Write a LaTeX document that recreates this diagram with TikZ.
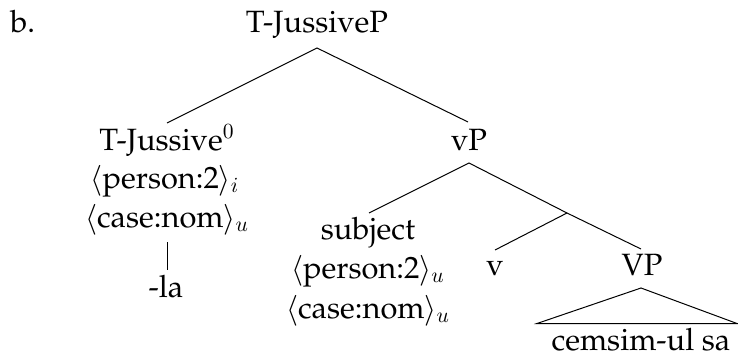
\documentclass[tikz,border=0pt]{standalone}
\usepackage{fix-cm}
\usepackage[T1]{fontenc}
\usepackage{palatino}
\begin{document}
\begin{tikzpicture}[x=0.5pt,y=-0.5pt,
  lbl/.style={anchor=base,inner sep=0pt,font=\fontfamily{ppl}\fontsize{15.4}{18}\selectfont},
  branch/.style={line width=0.5pt}]
\useasboundingbox (0,0) rectangle (738,358);
% labels
\node[lbl,anchor=base west] (ex) at (10,33) {b.};
\node[lbl] (root) at (317,33) {T-JussiveP};
\node[lbl] (tj) at (167,150) {T-Jussive$^0$};
\node[lbl] (tjp) at (165,188) {$\langle$person:2$\rangle_i$};
\node[lbl] (tjc) at (167,227) {$\langle$case:nom$\rangle_u$};
\node[lbl] (la) at (166,297) {-la};
\node[lbl] (vp) at (469,150) {vP};
\node[lbl] (subj) at (368,239) {subject};
\node[lbl] (subjp) at (368,278) {$\langle$person:2$\rangle_u$};
\node[lbl] (subjc) at (368,318) {$\langle$case:nom$\rangle_u$};
\node[lbl] (v) at (495,275) {v};
\node[lbl] (VP) at (642,275) {VP};
\node[lbl] (cem) at (641,350) {cemsim-ul sa};
% branch points
\coordinate (root-b) at (317,48);
\coordinate (tj-t) at (167,123);
\coordinate (vp-t) at (468,122);
\coordinate (vp-b) at (469,163);
\coordinate (subj-t) at (369,213);
\coordinate (vbar) at (567,213);
\coordinate (v-t) at (495,250);
\coordinate (VP-t) at (641,249);
\coordinate (tjc-b) at (167.5,242);
\coordinate (la-t) at (167.5,270);
\coordinate (VP-b) at (641,288);
\coordinate (tri-l) at (537,323.5);
\coordinate (tri-r) at (737,323.5);
% branches
\draw[branch] (tj-t) -- (root-b) -- (vp-t);
\draw[branch] (subj-t) -- (vp-b) -- (vbar);
\draw[branch] (v-t) -- (vbar) -- (VP-t);
\draw[branch] (tjc-b) -- (la-t);
\draw[branch] (VP-b) -- (tri-l) -- (tri-r) -- cycle;
\end{tikzpicture}
\end{document}
